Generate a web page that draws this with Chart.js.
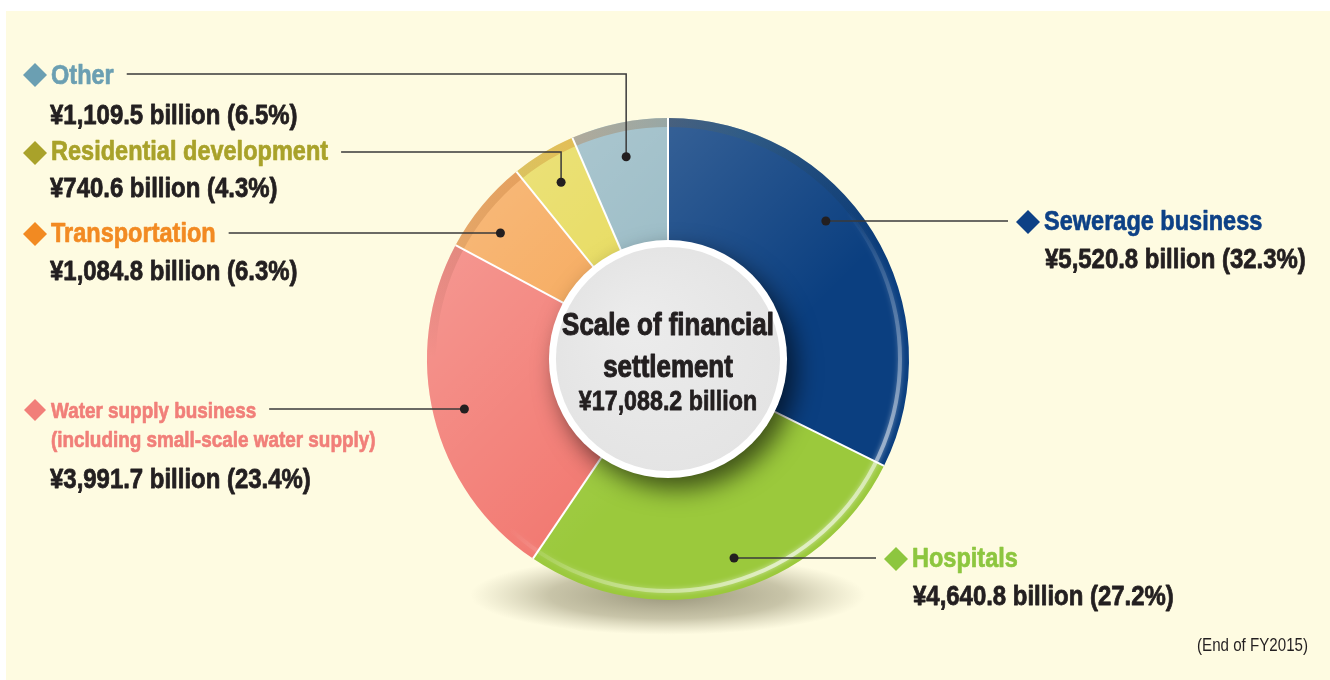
<!DOCTYPE html>
<html>
<head>
<meta charset="utf-8">
<title>Scale of financial settlement</title>
<script src="https://cdn.jsdelivr.net/npm/chart.js@4.4.1/dist/chart.umd.min.js"></script>
<style>
  html, body { margin: 0; padding: 0; background: #ffffff; }
  canvas { display: block; }
</style>
</head>
<body>
<canvas id="settlementChart" width="1330" height="680"></canvas>
<script>
// business categories, clockwise from 12 o'clock
const categories = [
  ["Sewerage business"],
  ["Hospitals"],
  ["Water supply business", "(including small-scale water supply)"],
  ["Transportation"],
  ["Residential development"],
  ["Other"]
];
// ¥ billion, end of FY2015
const values = [5520.8, 4640.8, 3991.7, 1084.8, 740.6, 1109.5];
const sliceColors = ["#0b3f80", "#9bc93c", "#f27870", "#f5a24e", "#e5d84f", "#92b6c1"];
const nameColors = ["#0d4186", "#8dc63f", "#f17f79", "#f28a22", "#a9a22a", "#6b9fb2"];
const centerTitle = ["Scale of financial", "settlement"];
const footNote = "(End of FY2015)";

const FONT = '"Liberation Sans", Arial, sans-serif';
const SQUEEZE = 0.84; // condensed look
const total = values.reduce((a, b) => a + b, 0);
const fmt = (v) => v.toLocaleString("en-US", { minimumFractionDigits: 1, maximumFractionDigits: 1 });

// where each callout sits on the page
const callouts = [
  { side: "right", x: 1044, nameY: 230, lineY: 221, valueY: 268, size: 28 },
  { side: "right", x: 912, nameY: 567, lineY: 558, valueY: 605, size: 28 },
  { side: "left", x: 51, nameY: 418, lineY: 409, valueY: 488, size: 22.5, lineGap: 29 },
  { side: "left", x: 51, nameY: 242, lineY: 233, valueY: 280, size: 28 },
  { side: "left", x: 51, nameY: 160, lineY: 152, valueY: 197, size: 28, elbow: true },
  { side: "left", x: 51, nameY: 84, lineY: 74, valueY: 124, size: 28, elbow: true }
];

// condensed text, optionally thickened with a hairline stroke
function squeezedText(c, str, x, y, align, sx, heavy) {
  const k = sx || SQUEEZE;
  c.save();
  c.translate(x, y);
  c.scale(k, 1);
  c.textAlign = align || "left";
  c.fillText(str, 0, 0);
  if (heavy) {
    c.strokeStyle = c.fillStyle;
    c.lineWidth = heavy;
    c.lineJoin = "round";
    c.strokeText(str, 0, 0);
  }
  c.restore();
  return c.measureText(str).width * k;
}

const backdrop = {
  id: "backdrop",
  beforeDraw(chart) {
    const c = chart.ctx;
    c.save();
    c.fillStyle = "#fefbe1";
    c.fillRect(6, 11, chart.width - 6, chart.height - 11);
    c.restore();
  },
  beforeDatasetsDraw(chart) {
    // soft shadow under the ring
    const arc = chart.getDatasetMeta(0).data[0];
    const c = chart.ctx;
    const cx = arc.x, cy = arc.y + arc.outerRadius * 0.98;
    const rx = arc.outerRadius * 0.82;
    c.save();
    c.translate(cx, cy);
    c.scale(1, 0.2);
    const g = c.createRadialGradient(0, 0, 0, 0, 0, rx);
    g.addColorStop(0, "rgba(110,106,80,0.7)");
    g.addColorStop(0.6, "rgba(135,130,100,0.45)");
    g.addColorStop(1, "rgba(160,156,130,0)");
    c.fillStyle = g;
    c.beginPath();
    c.arc(0, 0, rx, 0, Math.PI * 2);
    c.fill();
    c.restore();
  }
};

const ringShine = {
  id: "ringShine",
  afterDatasetsDraw(chart) {
    const arcs = chart.getDatasetMeta(0).data;
    const { x, y, outerRadius: R, innerRadius: r } = arcs[0];
    const c = chart.ctx;
    c.save();
    c.beginPath();
    c.arc(x, y, R, 0, Math.PI * 2);
    c.arc(x, y, r, 0, Math.PI * 2, true);
    c.clip();

    // light falling from the upper left
    const sheen = c.createLinearGradient(x - R, y - R, x + R * 0.2, y + R * 0.2);
    sheen.addColorStop(0, "rgba(255,255,255,0.3)");
    sheen.addColorStop(1, "rgba(255,255,255,0)");
    c.fillStyle = sheen;
    c.fillRect(x - R, y - R, R * 2, R * 2);

    // darker rim on the upper left
    const dark = c.createConicGradient(0, x, y);
    dark.addColorStop(0, "rgba(0,0,0,0)");
    dark.addColorStop(0.5, "rgba(0,0,0,0)");
    dark.addColorStop(0.68, "rgba(200,90,0,0.25)");
    dark.addColorStop(0.8, "rgba(60,100,110,0.3)");
    dark.addColorStop(0.95, "rgba(0,0,0,0)");
    c.strokeStyle = dark;
    c.lineWidth = 10;
    c.beginPath();
    c.arc(x, y, R - 4, 0, Math.PI * 2);
    c.stroke();

    // glossy rim on the lower right
    const gloss = c.createConicGradient(-Math.PI / 2, x, y);
    gloss.addColorStop(0, "rgba(255,255,255,0)");
    gloss.addColorStop(0.14, "rgba(255,255,255,0)");
    gloss.addColorStop(0.3, "rgba(255,255,255,0.45)");
    gloss.addColorStop(0.42, "rgba(255,255,255,0.6)");
    gloss.addColorStop(0.55, "rgba(255,255,255,0.25)");
    gloss.addColorStop(0.62, "rgba(255,255,255,0)");
    gloss.addColorStop(1, "rgba(255,255,255,0)");
    c.strokeStyle = gloss;
    c.lineWidth = 4;
    c.shadowColor = "rgba(255,255,255,0.9)";
    c.shadowBlur = 5;
    c.beginPath();
    c.arc(x, y, R - 9, 0, Math.PI * 2);
    c.stroke();
    c.restore();

    // white seams between slices
    c.save();
    c.strokeStyle = "#ffffff";
    c.lineWidth = 2;
    arcs.forEach((a) => {
      c.beginPath();
      c.moveTo(x + Math.cos(a.startAngle) * r, y + Math.sin(a.startAngle) * r);
      c.lineTo(x + Math.cos(a.startAngle) * R, y + Math.sin(a.startAngle) * R);
      c.stroke();
    });
    c.restore();
  }
};

const centerDisc = {
  id: "centerDisc",
  afterDatasetsDraw(chart) {
    const { x, y, outerRadius: R } = chart.getDatasetMeta(0).data[0];
    const c = chart.ctx;
    const rad = R * 0.494;
    c.save();
    c.shadowColor = "rgba(0,0,0,0.6)";
    c.shadowBlur = 24;
    c.shadowOffsetX = 9;
    c.shadowOffsetY = 11;
    c.fillStyle = "#ffffff";
    c.beginPath();
    c.arc(x, y, rad, 0, Math.PI * 2);
    c.fill();
    c.restore();

    c.save();
    const g = c.createRadialGradient(x - rad * 0.3, y - rad * 0.35, 0, x, y, rad);
    g.addColorStop(0, "#ececec");
    g.addColorStop(1, "#e4e4e4");
    c.fillStyle = g;
    c.beginPath();
    c.arc(x, y, rad - 7, 0, Math.PI * 2);
    c.fill();

    c.fillStyle = "#231f20";
    c.textBaseline = "alphabetic";
    c.font = "700 32px " + FONT;
    squeezedText(c, centerTitle[0], x, y - 24, "center", 0.81, 1.1);
    squeezedText(c, centerTitle[1], x, y + 18, "center", 0.81, 1.1);
    c.font = "700 28px " + FONT;
    squeezedText(c, "¥" + fmt(total) + " billion", x, y + 51, "center", 0.83, 0.8);
    c.restore();
  }
};

function diamond(c, cx, cy, h, color) {
  c.fillStyle = color;
  c.beginPath();
  c.moveTo(cx, cy - h);
  c.lineTo(cx + h, cy);
  c.lineTo(cx, cy + h);
  c.lineTo(cx - h, cy);
  c.closePath();
  c.fill();
}

const calloutLabels = {
  id: "calloutLabels",
  afterDraw(chart) {
    const arcs = chart.getDatasetMeta(0).data;
    const c = chart.ctx;
    c.save();
    c.textBaseline = "alphabetic";
    arcs.forEach((a, i) => {
      const L = callouts[i];
      const rDot = a.outerRadius * 0.87;
      let dx, dy;
      if (L.elbow) {
        const mid = (a.startAngle + a.endAngle) / 2;
        dx = a.x + Math.cos(mid) * rDot * 0.985;
        dy = a.y + Math.sin(mid) * rDot * 0.985;
      } else {
        const off = L.lineY - a.y;
        const run = Math.sqrt(Math.max(rDot * rDot - off * off, 0));
        dx = a.x + (L.side === "right" ? run : -run);
        dy = L.lineY;
      }

      // name lines
      c.font = "700 " + L.size + "px " + FONT;
      c.fillStyle = nameColors[i];
      const names = categories[i];
      let firstWidth = 0;
      names.forEach((t, k) => {
        const w = squeezedText(c, t, L.x, L.nameY + k * (L.lineGap || 0), "left", SQUEEZE, 0.7);
        if (k === 0) firstWidth = w;
      });
      diamond(c, L.x - 16, L.lineY + 1, L.size >= 28 ? 12 : 11, nameColors[i]);

      // leader line
      const lineEnd = L.side === "left" ? L.x + firstWidth + 13 : L.x - 36;
      c.strokeStyle = "#3a3a3a";
      c.lineWidth = 1.5;
      c.beginPath();
      c.moveTo(lineEnd, L.lineY);
      if (L.elbow) {
        c.lineTo(dx, L.lineY);
        c.lineTo(dx, dy);
      } else {
        c.lineTo(dx, dy);
      }
      c.stroke();
      c.fillStyle = "#231f20";
      c.beginPath();
      c.arc(dx, dy, 4.5, 0, Math.PI * 2);
      c.fill();

      // amount and share
      c.font = "700 28px " + FONT;
      c.fillStyle = "#231f20";
      const share = (values[i] / total * 100).toFixed(1);
      squeezedText(c, "¥" + fmt(values[i]) + " billion (" + share + "%)", L.side === "left" ? L.x - 1 : L.x + 1, L.valueY, "left", 0.855, 0.8);
    });

    c.font = "400 18px " + FONT;
    c.fillStyle = "#231f20";
    squeezedText(c, footNote, 1308, 651, "right");
    c.restore();
  }
};

const ctx = document.getElementById("settlementChart").getContext("2d");
window.settlementChart = new Chart(ctx, {
  type: "doughnut",
  data: {
    labels: categories.map((c) => c.join(" ")),
    datasets: [
      {
        label: "Scale of financial settlement",
        data: values,
        backgroundColor: sliceColors,
        borderWidth: 0,
        hoverOffset: 0,
        offset: 0
      }
    ]
  },
  options: {
    responsive: false,
    animation: false,
    cutout: "46%",
    layout: { padding: { left: 427, right: 421, top: 118, bottom: 80 } },
    plugins: {
      legend: { display: false },
      tooltip: { enabled: false }
    }
  },
  plugins: [backdrop, ringShine, centerDisc, calloutLabels]
});
</script>
</body>
</html>
